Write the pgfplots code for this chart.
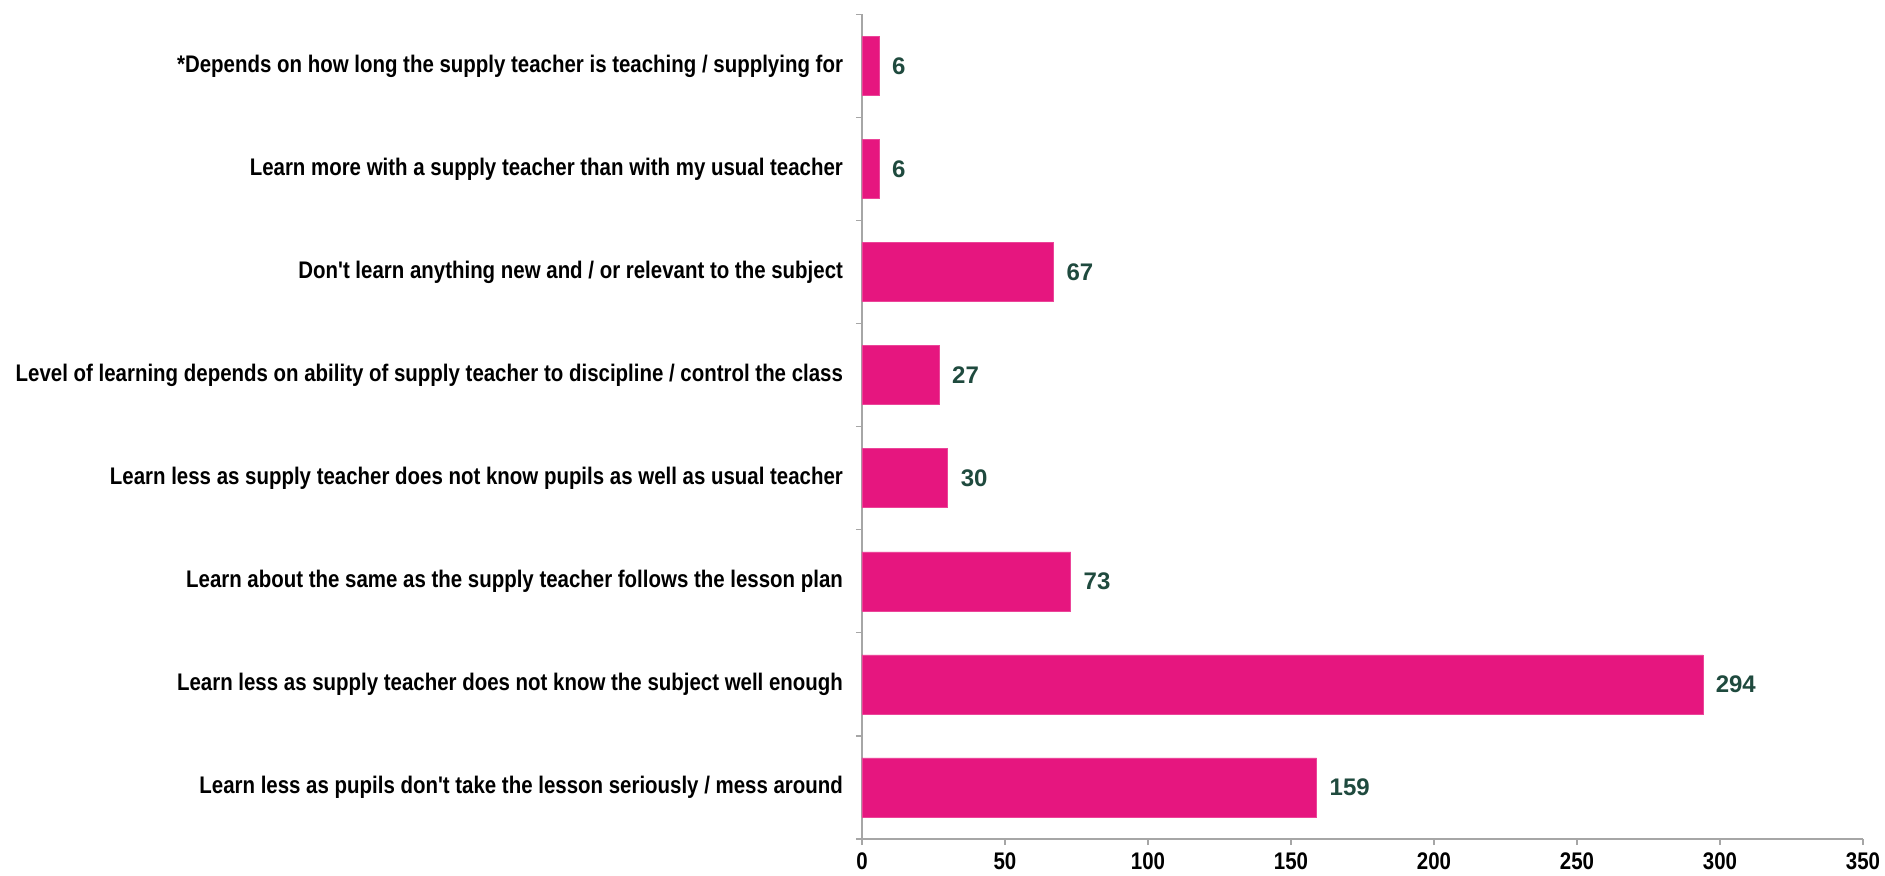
\documentclass[border=0pt]{standalone}
\usepackage{fontspec}
\setmainfont{Liberation Sans}[FakeStretch=0.852, Ligatures=TeXOff]
\newfontfamily\numfont{Liberation Sans}
\usepackage{pgfplots}
\pgfplotsset{compat=1.18}
\definecolor{barpink}{HTML}{E6167F}
\definecolor{lblgreen}{HTML}{1F4A3E}
\definecolor{axgray}{HTML}{A6A6A6}
\begin{document}
\begin{tikzpicture}
\useasboundingbox (0,0) rectangle (942.5pt,437.5pt);
\begin{axis}[
  at={(431pt,18pt)}, anchor=south west,
  scale only axis, width=500.5pt, height=412.3pt,
  xbar, bar width=29.5pt,
  xmin=0, xmax=350, ymin=-0.5, ymax=7.5,
  axis x line*=bottom, axis y line*=left,
  axis line style={axgray, line width=0.6pt},
  xtick={0,50,...,350},
  ytick={-0.5,0.5,...,7.5},
  yticklabels={},
  major tick length=3pt,
  tick align=outside,
  tick style={axgray, line width=0.6pt},
  xticklabel style={font=\fontsize{12}{13}\selectfont\bfseries, yshift=-0.5pt},
  /pgf/number format/assume math mode=true,
  extra y ticks={0,...,7},
  extra y tick labels={
    {Learn less as pupils don't take the lesson seriously / mess around},
    {Learn less as supply teacher does not know the subject well enough},
    {Learn about the same as the supply teacher follows the lesson plan},
    {Learn less as supply teacher does not know pupils as well as usual teacher},
    {Level of learning depends on ability of supply teacher to discipline / control the class},
    {Don't learn anything new and / or relevant to the subject},
    {Learn more with a supply teacher than with my usual teacher},
    {*Depends on how long the supply teacher is teaching / supplying for}},
  extra y tick style={major tick length=0pt,
    yticklabel style={font=\fontsize{12}{13}\selectfont\bfseries, anchor=east, xshift=-6pt}},
  nodes near coords,
  every node near coord/.append style={font=\numfont\fontsize{12}{13}\selectfont\bfseries, text=lblgreen, anchor=west, xshift=3pt},
  clip=false,
]
\addplot[fill=barpink, draw=barpink!80!white, line width=0.3pt] coordinates {
  (159,0) (294,1) (73,2) (30,3) (27,4) (67,5) (6,6) (6,7)};
\end{axis}
\end{tikzpicture}
\end{document}
